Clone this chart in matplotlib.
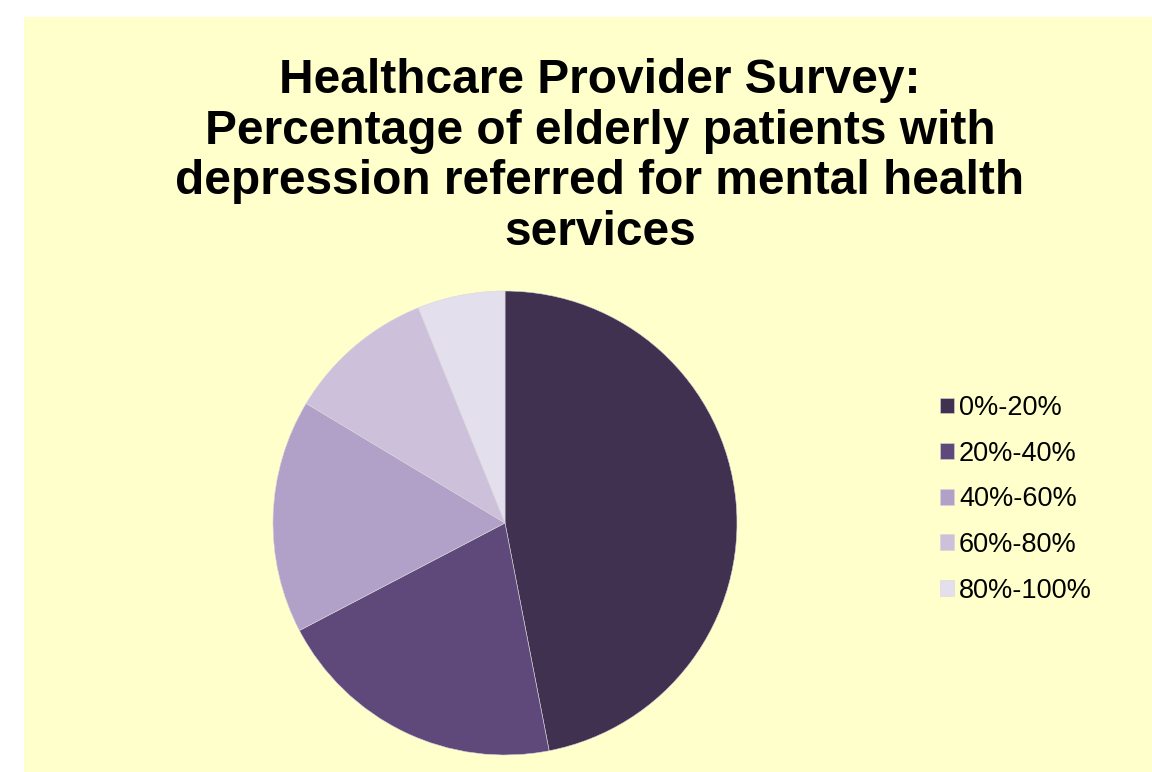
import matplotlib
matplotlib.use("Agg")
import matplotlib.pyplot as plt
from matplotlib.patches import Rectangle

# data
categories = ["0%-20%", "20%-40%", "40%-60%", "60%-80%", "80%-100%"]
shares = [47.0, 20.4, 16.3, 10.3, 6.1]
colors = ["#403151", "#5F497A", "#B1A0C7", "#CCC0DA", "#E4DFEC"]
title = ("Healthcare Provider Survey:\nPercentage of elderly patients with\n"
         "depression referred for mental health\nservices")

plt.rcParams['font.family'] = ['Liberation Sans', 'DejaVu Sans']

W, H = 1152, 772
fig = plt.figure(figsize=(W / 100, H / 100), dpi=100)
fig.patch.set_facecolor("white")

# yellow chart area
fig.patches.append(Rectangle((24 / W, 0), 1 - 24 / W, 1 - 17 / H,
                             transform=fig.transFigure, facecolor="#FFFFCC",
                             edgecolor="none", zorder=-5))

fig.text(600 / W, 1 - 58 / H, title, ha="center", va="top", fontsize=34.5,
         fontweight="bold", linespacing=1.16)

ax = fig.add_axes([273 / W, 17 / H, 464 / W, 464 / H])
wedges, _ = ax.pie(shares, colors=colors, startangle=90, counterclock=False,
                   radius=1.0, wedgeprops=dict(edgecolor="#d8d4dc", linewidth=0.4))
ax.set_xlim(-1, 1)
ax.set_ylim(-1, 1)
ax.set_aspect("equal")
ax.axis("off")

leg = fig.legend(wedges, categories, loc="upper left",
                 bbox_to_anchor=(940 / W, 1 - 395 / H), frameon=False,
                 fontsize=19.5, handlelength=0.52, handleheight=0.52,
                 handletextpad=0.18, labelspacing=0.725, borderpad=0,
                 borderaxespad=0)

fig.savefig("out.png", dpi=100, facecolor=fig.get_facecolor())
